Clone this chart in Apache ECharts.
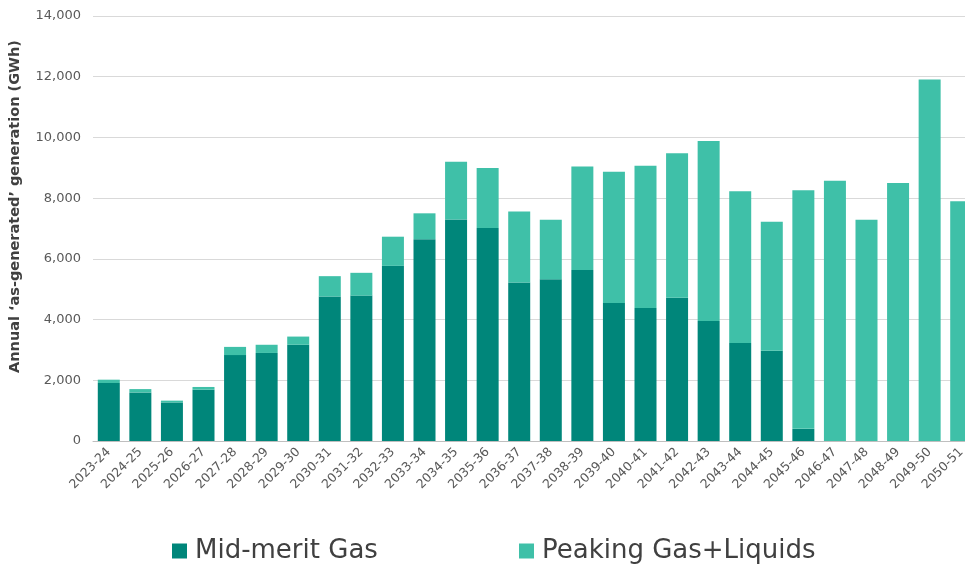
<!DOCTYPE html>
<html>
<head>
<meta charset="utf-8">
<script src="https://cdn.jsdelivr.net/npm/echarts@6/dist/echarts.min.js"></script>
<style>
html,body{margin:0;padding:0;background:#fff;overflow:hidden;}
#chart{width:985px;height:567px;}
</style>
</head>
<body>
<div id="chart"></div>
<script>
const categories = ['2023-24','2024-25','2025-26','2026-27','2027-28','2028-29','2029-30','2030-31','2031-32','2032-33','2033-34','2034-35','2035-36','2036-37','2037-38','2038-39','2039-40','2040-41','2041-42','2042-43','2043-44','2044-45','2045-46','2046-47','2047-48','2048-49','2049-50','2050-51'];
const midMeritGas = [1910,1600,1270,1690,2830,2900,3170,4760,4790,5770,6650,7300,7020,5220,5330,5630,4550,4380,4720,3950,3230,2970,400,0,0,0,0,0];
const peakingGasLiquids = [110,110,60,90,270,270,270,670,750,960,850,1900,1970,2340,1960,3410,4320,4690,4760,5930,5000,4250,7860,8570,7290,8500,11910,7900];
const yTicks = {min:0, max:14000, interval:2000};

const chart = echarts.init(document.getElementById('chart'), null, {renderer:'canvas'});
const font = 'DejaVu Sans';
chart.setOption({
  backgroundColor:'#ffffff',
  animation:false,
  textStyle:{fontFamily:font},
  grid:{left:92, top:16, width:885, height:425, containLabel:false},
  legend:[
    {left:167, top:533, itemWidth:15, itemHeight:15, icon:'rect', data:['Mid-merit Gas'],
     textStyle:{fontSize:26, color:'#404040', fontFamily:font, padding:[0,0,0,3]}},
    {left:514, top:533, itemWidth:15, itemHeight:15, icon:'rect', data:['Peaking Gas+Liquids'],
     textStyle:{fontSize:26, color:'#404040', fontFamily:font, padding:[0,0,0,3]}}
  ],
  xAxis:{
    type:'category', data:categories,
    axisLine:{lineStyle:{color:'#bfbfbf', width:1}},
    axisTick:{show:false},
    axisLabel:{rotate:45, interval:0, fontSize:12.5, color:'#595959', margin:9, fontFamily:font}
  },
  yAxis:{
    type:'value', min:yTicks.min, max:yTicks.max, interval:yTicks.interval,
    name:'Annual \u2018as-generated\u2019 generation (GWh)',
    nameLocation:'middle', nameGap:70, nameRotate:90,
    nameTextStyle:{fontSize:14.5, fontWeight:'bold', color:'#404040', fontFamily:font, padding:[0,0,0,44]},
    axisLine:{show:false}, axisTick:{show:false},
    axisLabel:{fontSize:13, color:'#595959', margin:12, fontFamily:font,
      formatter:v=>v.toLocaleString('en-US')},
    splitLine:{lineStyle:{color:'#d9d9d9', width:1}}
  },
  series:[
    {name:'Mid-merit Gas', type:'bar', stack:'g', data:midMeritGas, barWidth:22,
     itemStyle:{color:'#00867A'}},
    {name:'Peaking Gas+Liquids', type:'bar', stack:'g', data:peakingGasLiquids, barWidth:22,
     itemStyle:{color:'#3FC0A8'}}
  ]
});
</script>
</body>
</html>
